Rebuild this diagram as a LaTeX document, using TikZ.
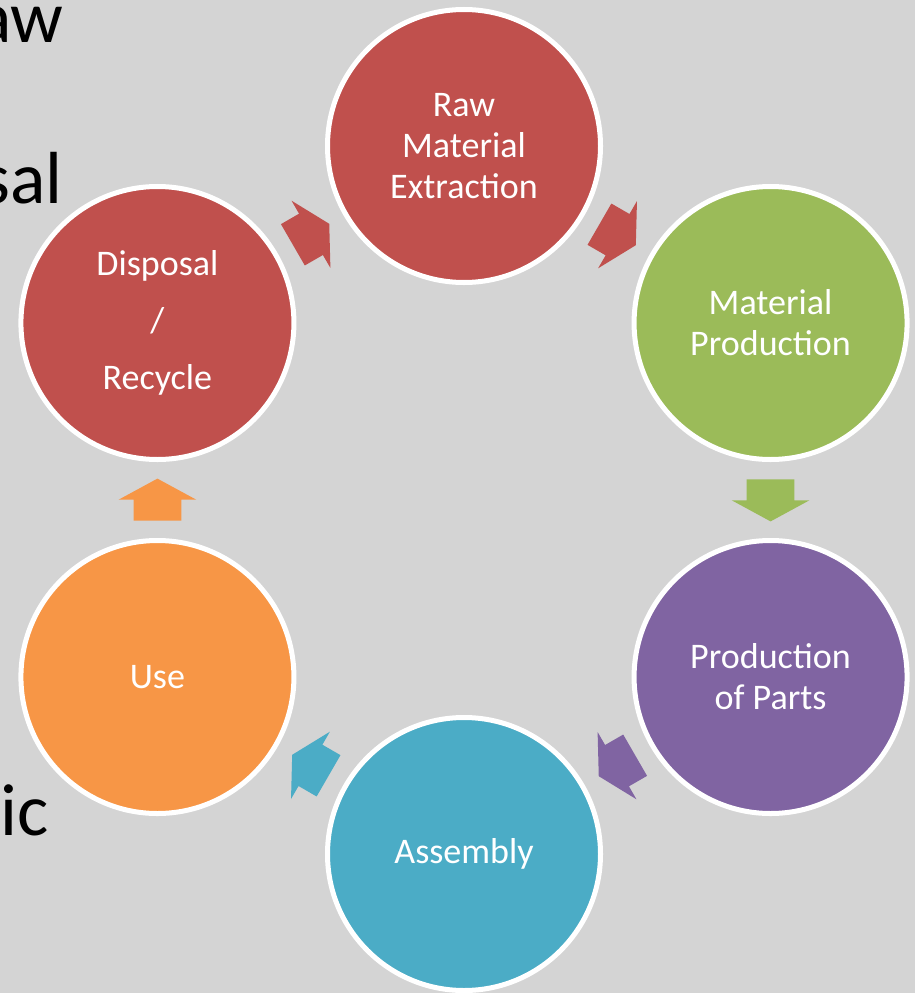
\documentclass[tikz,border=0pt]{standalone}
\usepackage{fontspec}
\setmainfont{Carlito}
\usepackage{xcolor}
\usetikzlibrary{positioning, shapes.arrows, calc}
\definecolor{slidegray}{HTML}{D4D4D4}
\definecolor{lcred}{HTML}{C0504D}
\definecolor{lcgreen}{HTML}{9BBB59}
\definecolor{lcpurple}{HTML}{8064A2}
\definecolor{lcblue}{HTML}{4BACC6}
\definecolor{lcorange}{HTML}{F79646}

\begin{document}
\begin{tikzpicture}[
  stage/.style={
    circle, draw=white, line width=2.85pt, minimum size=5.46cm,
    inner sep=0pt, text=white, align=center,
    font=\fontsize{20.5}{23.3}\selectfont
  },
  flow/.style={
    single arrow, draw=none, inner xsep=0pt, inner ysep=0.47cm,
    minimum height=0.84cm,
    single arrow head extend=0.3cm, single arrow tip angle=123,
    pos=0.42, sloped, allow upside down
  },
  slidetext/.style={inner sep=0pt, font=\fontsize{42}{50}\selectfont},
]

% Slide background
\fill[slidegray] (0,0) rectangle (18.3,-19.86);
\useasboundingbox (0,0) rectangle (18.3,-19.86);

% Slide text showing behind the cycle
\node[slidetext, anchor=base east] (txtraw) at (1.28,-0.84) {aw};
\node[slidetext, anchor=base east] (txtdisp) at (1.26,-4.06) {sal};
\node[slidetext, anchor=base west] (txtic) at (0.0,-16.7) {ic};

% Life cycle stages
\coordinate (hub) at (9.28,-10);
\node[stage, fill=lcred] (raw) at ($(hub)+(90:7.08)$) {Raw\\Material\\Extraction};
\node[stage, fill=lcgreen] (matprod) at ($(hub)+(30:7.08)$) {Material\\Production};
\node[stage, fill=lcpurple] (parts) at ($(hub)+(-30:7.08)$) {Production\\of Parts};
\node[stage, fill=lcblue] (assembly) at ($(hub)+(-90:7.08)$) {Assembly};
\node[stage, fill=lcorange] (use) at ($(hub)+(-150:7.08)$) {Use};
\node[stage, fill=lcred] (disposal) at ($(hub)+(150:7.08)$) {Disposal\\[0.32cm]/\\[0.32cm]Recycle};

% Arrows
\path (disposal) -- (raw) node[flow, fill=lcred] (a1) {};
\path (raw) -- (matprod) node[flow, fill=lcred] (a2) {};
\path (matprod) -- (parts) node[flow, fill=lcgreen] (a3) {};
\path (parts) -- (assembly) node[flow, fill=lcpurple] (a4) {};
\path (assembly) -- (use) node[flow, fill=lcblue] (a5) {};
\path (use) -- (disposal) node[flow, fill=lcorange] (a6) {};
\end{tikzpicture}
\end{document}
